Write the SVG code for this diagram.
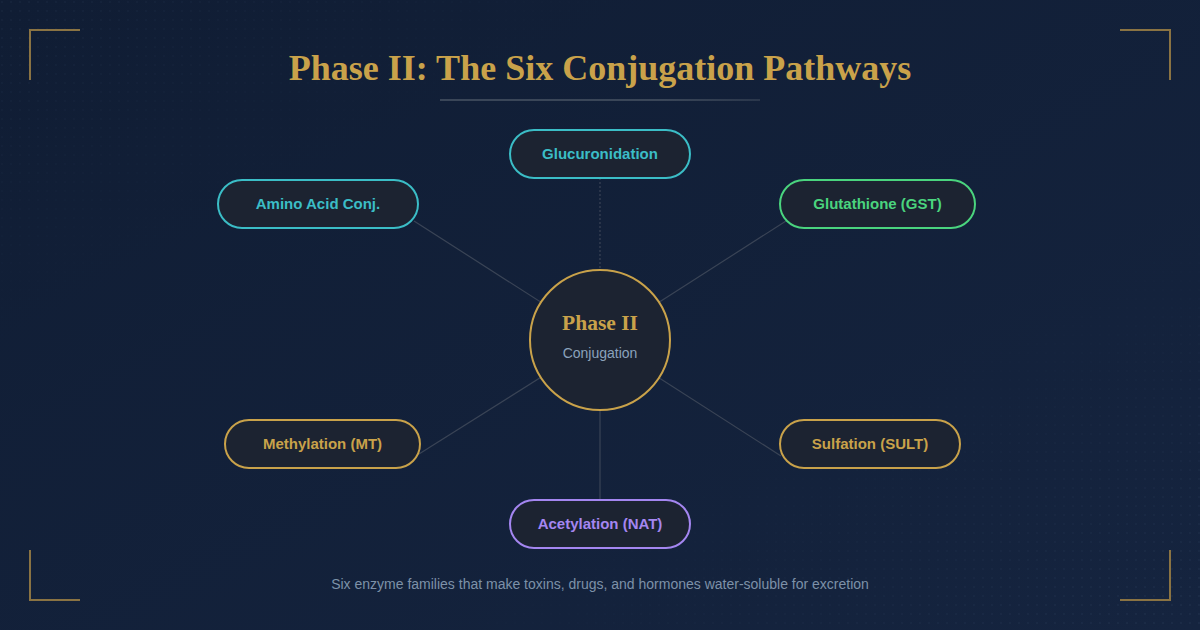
<svg xmlns="http://www.w3.org/2000/svg" width="1200" height="630" viewBox="0 0 1200 630">
  <defs>
    <linearGradient id="bg" x1="0" y1="0" x2="1" y2="1">
      <stop offset="0" stop-color="#101d34"/>
      <stop offset="1" stop-color="#15243f"/>
    </linearGradient>
    <pattern id="dots" width="9" height="9" patternUnits="userSpaceOnUse">
      <circle cx="2" cy="2" r="0.7" fill="#4a6080"/>
    </pattern>
    <linearGradient id="dotfade" x1="0" y1="0" x2="1" y2="1">
      <stop offset="0" stop-color="#fff" stop-opacity="0.5"/>
      <stop offset="0.3" stop-color="#fff" stop-opacity="0"/>
      <stop offset="0.65" stop-color="#fff" stop-opacity="0"/>
      <stop offset="1" stop-color="#fff" stop-opacity="0.7"/>
    </linearGradient>
    <mask id="dm"><rect width="1200" height="630" fill="url(#dotfade)"/></mask>
    <linearGradient id="rule" x1="0" y1="0" x2="1" y2="0">
      <stop offset="0" stop-color="#3a4658"/>
      <stop offset="0.7" stop-color="#3a4658"/>
      <stop offset="1" stop-color="#3a4658" stop-opacity="0.6"/>
    </linearGradient>
    <style>
      .corner{fill:none;stroke:#8a7343;stroke-width:2}
      .pill{fill:#1c2331;stroke-width:2}
      .lbl{font-family:"Liberation Sans",Arial,sans-serif;font-weight:bold;font-size:15px;text-anchor:middle}
      .conn{stroke:#3a4456;stroke-width:1.2;fill:none}
    </style>
  </defs>
  <rect width="1200" height="630" fill="url(#bg)"/>
  <rect width="1200" height="630" fill="url(#dots)" mask="url(#dm)" opacity="0.5"/>

  <path class="corner" d="M30 80 V30 H80"/>
  <path class="corner" d="M1120 30 H1170 V80"/>
  <path class="corner" d="M30 550 V600 H80"/>
  <path class="corner" d="M1170 550 V600 H1120"/>

  <text x="600" y="80" text-anchor="middle" font-family="'Liberation Serif','Times New Roman',serif" font-weight="bold" font-size="36" fill="#c9a24a">Phase II: The Six Conjugation Pathways</text>
  <rect x="440" y="99" width="320" height="2" fill="url(#rule)"/>

  <g id="connectors">
    <line class="conn" x1="600" y1="178" x2="600" y2="280" stroke-dasharray="2 2"/>
    <line class="conn" x1="600" y1="340" x2="414" y2="221"/>
    <line class="conn" x1="600" y1="340" x2="786" y2="221"/>
    <line class="conn" x1="600" y1="340" x2="419" y2="454"/>
    <line class="conn" x1="600" y1="340" x2="781" y2="456"/>
    <line class="conn" x1="600" y1="340" x2="600" y2="500"/>
  </g>

  <g id="center">
    <circle cx="600" cy="340" r="70" fill="#1c2331" stroke="#c9a24a" stroke-width="2"/>
    <text x="600" y="330" text-anchor="middle" font-family="'Liberation Serif','Times New Roman',serif" font-weight="bold" font-size="21.5" fill="#c9a24a">Phase II</text>
    <text x="600" y="358" text-anchor="middle" font-family="'Liberation Sans',Arial,sans-serif" font-size="14" fill="#8aa2bc">Conjugation</text>
  </g>

  <g id="glucuronidation">
    <rect class="pill" x="510" y="130" width="180" height="48" rx="24" stroke="#3bbdc6"/>
    <text class="lbl" x="600" y="159" fill="#3bbdc6">Glucuronidation</text>
  </g>
  <g id="amino">
    <rect class="pill" x="218" y="180" width="200" height="48" rx="24" stroke="#3bbdc6"/>
    <text class="lbl" x="318" y="209" fill="#3bbdc6">Amino Acid Conj.</text>
  </g>
  <g id="glutathione">
    <rect class="pill" x="780" y="180" width="195" height="48" rx="24" stroke="#4ad47e"/>
    <text class="lbl" x="877.500" y="209" fill="#4ad47e">Glutathione (GST)</text>
  </g>
  <g id="methylation">
    <rect class="pill" x="225" y="420" width="195" height="48" rx="24" stroke="#c9a24a"/>
    <text class="lbl" x="322.500" y="449" fill="#c9a24a">Methylation (MT)</text>
  </g>
  <g id="sulfation">
    <rect class="pill" x="780" y="420" width="180" height="48" rx="24" stroke="#c9a24a"/>
    <text class="lbl" x="870" y="449" fill="#c9a24a">Sulfation (SULT)</text>
  </g>
  <g id="acetylation">
    <rect class="pill" x="510" y="500" width="180" height="48" rx="24" stroke="#a486f0"/>
    <text class="lbl" x="600" y="529" fill="#a486f0">Acetylation (NAT)</text>
  </g>

  <text x="600" y="589" text-anchor="middle" font-family="'Liberation Sans',Arial,sans-serif" font-size="14" fill="#7d91a8">Six enzyme families that make toxins, drugs, and hormones water-soluble for excretion</text>
</svg>
